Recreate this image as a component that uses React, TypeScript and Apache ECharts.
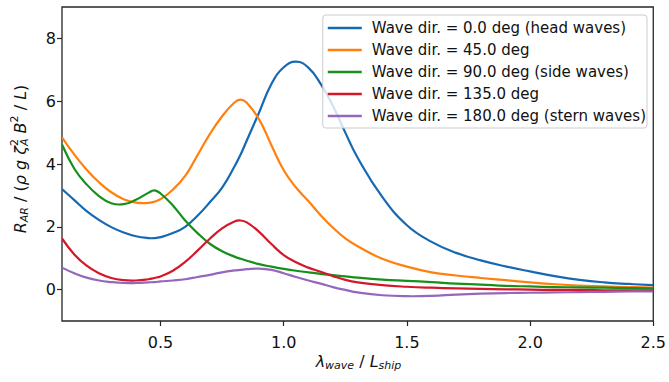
import React, { useEffect, useRef } from "react";
import * as echarts from "echarts";

// Wavelength ratio lambda_wave / L_ship
const lambdaRatio = [
  0.1, 0.15, 0.2, 0.25, 0.3, 0.35, 0.4, 0.45, 0.475, 0.5, 0.55, 0.6, 0.65, 0.7, 0.75, 0.8, 0.825, 0.85, 0.9, 0.95,
  1.0, 1.05, 1.1, 1.15, 1.2, 1.25, 1.3, 1.4, 1.5, 1.6, 1.7, 1.8, 1.9, 2.0, 2.1, 2.2, 2.3, 2.4, 2.5,
];

// Non-dimensional added resistance per wave direction
const headWaves = [
  3.2, 2.85, 2.5, 2.22, 1.99, 1.82, 1.7, 1.64, 1.64, 1.67, 1.8, 2.0, 2.35, 2.78, 3.25, 3.92, 4.3, 4.75, 5.64, 6.55,
  7.08, 7.26, 7.07, 6.55, 5.85, 5.0, 4.2, 2.95, 2.05, 1.52, 1.17, 0.93, 0.74, 0.58, 0.43, 0.31, 0.23, 0.18, 0.14,
];
const dir45 = [
  4.85, 4.3, 3.82, 3.42, 3.1, 2.88, 2.77, 2.76, 2.8, 2.88, 3.18, 3.62, 4.28, 4.95, 5.52, 5.96, 6.05, 5.95, 5.42, 4.6,
  3.8, 3.25, 2.82, 2.37, 1.97, 1.63, 1.38, 0.98, 0.73, 0.55, 0.45, 0.37, 0.3, 0.23, 0.17, 0.13, 0.1, 0.08, 0.06,
];
const sideWaves = [
  4.62, 3.85, 3.35, 2.98, 2.75, 2.72, 2.86, 3.08, 3.16, 3.06, 2.68, 2.2, 1.8, 1.46, 1.22, 1.05, 0.98, 0.92, 0.81, 0.73,
  0.66, 0.6, 0.55, 0.5, 0.46, 0.42, 0.38, 0.32, 0.28, 0.24, 0.19, 0.16, 0.12, 0.1, 0.08, 0.07, 0.06, 0.05, 0.04,
];
const dir135 = [
  1.63, 1.12, 0.76, 0.52, 0.37, 0.3, 0.29, 0.33, 0.37, 0.42, 0.6, 0.88, 1.24, 1.62, 1.95, 2.17, 2.2, 2.14, 1.84, 1.45,
  1.1, 0.87, 0.7, 0.57, 0.43, 0.31, 0.23, 0.14, 0.09, 0.06, 0.04, 0.02, 0.01, 0.0, -0.01, -0.01, -0.02, -0.02, -0.02,
];
const sternWaves = [
  0.7, 0.52, 0.38, 0.29, 0.24, 0.21, 0.21, 0.23, 0.24, 0.26, 0.29, 0.33, 0.4, 0.47, 0.55, 0.61, 0.63, 0.65, 0.67, 0.63,
  0.52, 0.4, 0.29, 0.19, 0.08, -0.01, -0.09, -0.18, -0.21, -0.2, -0.16, -0.13, -0.11, -0.1, -0.09, -0.08, -0.07, -0.06, -0.06,
];

const seriesNames = [
  "Wave dir. = 0.0 deg (head waves)",
  "Wave dir. = 45.0 deg",
  "Wave dir. = 90.0 deg (side waves)",
  "Wave dir. = 135.0 deg",
  "Wave dir. = 180.0 deg (stern waves)",
];
const seriesValues = [headWaves, dir45, sideWaves, dir135, sternWaves];
const seriesColors = ["#1569b3", "#ff800e", "#16901a", "#d3182a", "#9467bd"];

const xTicks = [0.5, 1.0, 1.5, 2.0, 2.5];
const yTicks = [0, 2, 4, 6, 8];

const FONT = '"DejaVu Sans", sans-serif';
const INK = "#111";

type Seg = { t?: string; it?: boolean; lvl?: 0 | 1 | 2; stack?: [string, string] };

// Lays out a mathtext-like label (sub/superscripts) as separate text elements
function mathLabel(segs: Seg[], fs: number) {
  const ctx = document.createElement("canvas").getContext("2d")!;
  const small = Math.round(fs * 0.7);
  const fontOf = (size: number, it: boolean) => `${it ? "italic " : ""}${size}px ${FONT}`;
  const measure = (text: string, font: string) => {
    ctx.font = font;
    return ctx.measureText(text).width;
  };
  const subDy = 0.35 * (fs - small) + fs * 0.2;
  const supDy = 0.35 * (fs - small) - fs * 0.45;
  const items: { x: number; y: number; text: string; font: string }[] = [];
  let x = 0;
  for (const s of segs) {
    if (s.stack) {
      const supFont = fontOf(small, false);
      const subFont = fontOf(small, true);
      const w = Math.max(measure(s.stack[0], supFont), measure(s.stack[1], subFont));
      items.push({ x, y: supDy, text: s.stack[0], font: supFont });
      items.push({ x, y: subDy, text: s.stack[1], font: subFont });
      x += w;
    } else {
      const lvl = s.lvl || 0;
      const size = lvl ? small : fs;
      const font = fontOf(size, !!s.it);
      items.push({ x, y: lvl === 1 ? subDy : lvl === 2 ? supDy : 0, text: s.t!, font });
      x += measure(s.t!, font);
    }
  }
  const half = x / 2;
  return items.map((it) => ({
    type: "text",
    x: it.x - half,
    y: it.y,
    silent: true,
    style: { text: it.text, font: it.font, fill: INK, align: "left", verticalAlign: "middle" },
  }));
}

export default function App() {
  const ref = useRef<HTMLDivElement>(null);

  useEffect(() => {
    if (!ref.current) return;
    const chart = echarts.init(ref.current, undefined, { renderer: "svg" });

    const yLabel = mathLabel(
      [
        { t: "R", it: true },
        { t: "AR", it: true, lvl: 1 },
        { t: " / (" },
        { t: "ρ", it: true },
        { t: " " },
        { t: "g", it: true },
        { t: " " },
        { t: "ζ", it: true },
        { stack: ["2", "A"] },
        { t: " " },
        { t: "B", it: true },
        { t: "2", lvl: 2 },
        { t: " / " },
        { t: "L", it: true },
        { t: ")" },
      ],
      16
    );
    const xLabel = mathLabel(
      [
        { t: "λ", it: true },
        { t: "wave", it: true, lvl: 1 },
        { t: " / " },
        { t: "L", it: true },
        { t: "ship", it: true, lvl: 1 },
      ],
      16
    );

    chart.setOption({
      animation: false,
      backgroundColor: "#ffffff",
      grid: {
        left: 62,
        right: 14,
        top: 7,
        bottom: 61,
        show: true,
        borderColor: "#262626",
        borderWidth: 1.3,
        backgroundColor: "transparent",
      },
      xAxis: {
        type: "value",
        min: 0.1,
        max: 2.5,
        axisLine: { show: false, onZero: false },
        splitLine: { show: false },
        axisTick: {
          show: true,
          length: 5,
          inside: false,
          customValues: xTicks,
          lineStyle: { color: "#262626", width: 1.2 },
        },
        axisLabel: {
          customValues: xTicks,
          margin: 13,
          fontSize: 16,
          fontFamily: FONT,
          color: INK,
          formatter: (v: number) => v.toFixed(1),
        },
      },
      yAxis: {
        type: "value",
        min: -1,
        max: 9,
        axisLine: { show: false, onZero: false },
        splitLine: { show: false },
        axisTick: {
          show: true,
          length: 5,
          inside: false,
          customValues: yTicks,
          lineStyle: { color: "#262626", width: 1.2 },
        },
        axisLabel: {
          customValues: yTicks,
          margin: 6,
          fontSize: 16,
          fontFamily: FONT,
          color: INK,
          formatter: (v: number) => String(v),
        },
      },
      legend: {
        orient: "vertical",
        right: 22,
        top: 15,
        padding: [5, 1, 4, 5],
        itemGap: 6,
        itemWidth: 34,
        itemHeight: 2.5,
        icon: "rect",
        backgroundColor: "rgba(255,255,255,0.8)",
        borderColor: "#cccccc",
        borderWidth: 1,
        borderRadius: 3,
        textStyle: {
          fontSize: 15,
          fontFamily: FONT,
          color: INK,
          lineHeight: 16,
          padding: [0, 0, 0, 5],
        },
        data: seriesNames,
      },
      graphic: [
        { type: "group", x: 20, y: 159, rotation: Math.PI / 2, children: yLabel },
        { type: "group", x: 358.5, y: 361, children: xLabel },
      ],
      // Each curve is a smoothed polyline through its data points, placed with the axis scales
      series: seriesNames.map((name, i) => {
        const data = lambdaRatio.map((x, j) => [x, seriesValues[i][j]]);
        return {
          name,
          type: "custom",
          clip: true,
          itemStyle: { color: seriesColors[i] },
          encode: { x: 0, y: 1 },
          data,
          renderItem: (params: any, api: any) => {
            if (params.dataIndex !== 0) return null;
            const points = data.map((d) => api.coord(d));
            return {
              type: "polyline",
              shape: { points, smooth: 0.45 },
              style: {
                stroke: seriesColors[i],
                lineWidth: 2.2,
                fill: null,
                lineJoin: "round",
                lineCap: "butt",
              },
            };
          },
        };
      }),
    });

    return () => chart.dispose();
  }, []);

  return (
    <div
      ref={ref}
      style={{ position: "absolute", left: 0, top: 0, width: 669, height: 382, background: "#fff" }}
    />
  );
}
